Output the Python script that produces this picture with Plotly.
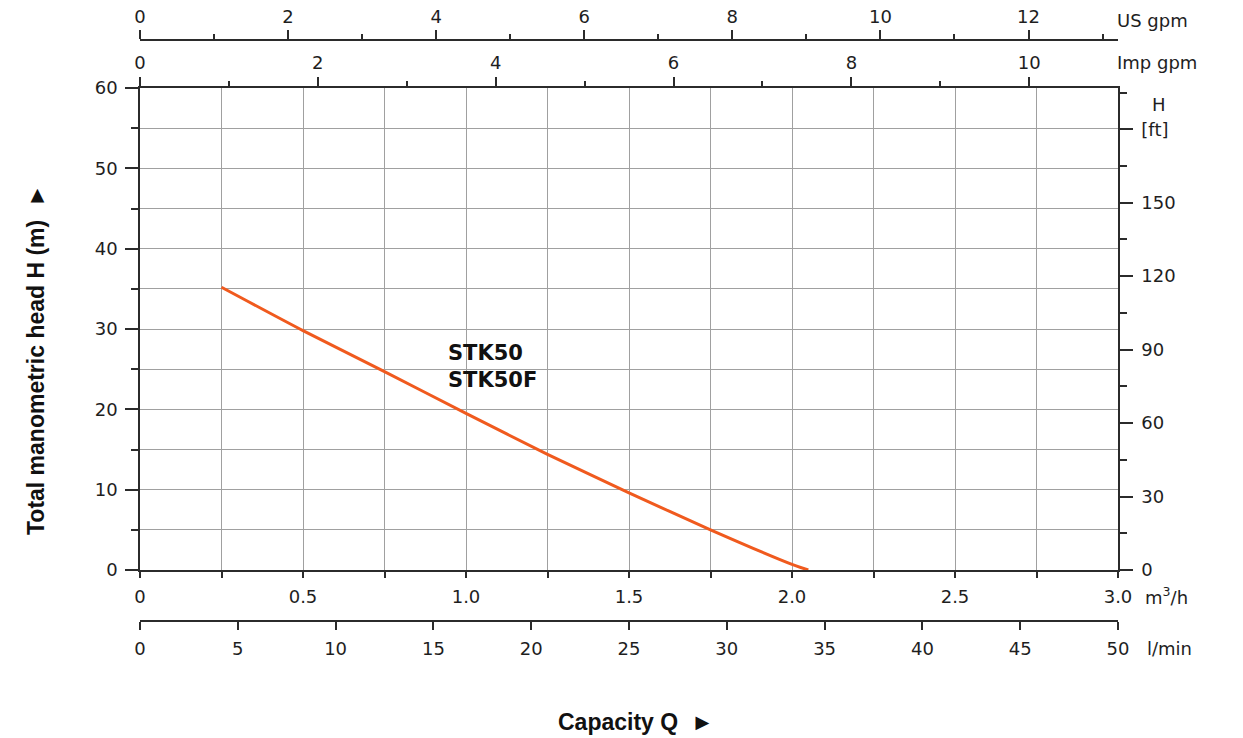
import plotly.graph_objects as go

# ---- data ----
flow_m3h = [0.25, 0.5, 0.75, 1.0, 1.25, 1.5, 1.75, 2.0, 2.05]
head_m = [35.2, 29.8, 24.7, 19.5, 14.4, 9.6, 5.0, 0.7, 0.0]
curve_label = "STK50<br>STK50F"

m3h_ticks = [0, 0.5, 1.0, 1.5, 2.0, 2.5, 3.0]
m3h_text = ["0", "0.5", "1.0", "1.5", "2.0", "2.5", "3.0"]
m3h_minor = [0.25, 0.75, 1.25, 1.75, 2.25, 2.75]
lmin_ticks = [0, 5, 10, 15, 20, 25, 30, 35, 40, 45, 50]
usgpm_ticks = [0, 2, 4, 6, 8, 10, 12]
usgpm_minor = [1, 3, 5, 7, 9, 11, 13]
impgpm_ticks = [0, 2, 4, 6, 8, 10]
impgpm_minor = [1, 3, 5, 7, 9, 11]
head_ticks = [0, 10, 20, 30, 40, 50, 60]
head_minor = [5, 15, 25, 35, 45, 55]
ft_ticks = [0, 30, 60, 90, 120, 150, 180]
ft_text = ["0", "30", "60", "90", "120", "150", "[ft]"]
ft_minor = [15, 45, 75, 105, 135, 165, 195]

Q_MAX = 3.0
H_MAX = 60
US_PER_M3H = 4.40287
IMP_PER_M3H = 3.66615
FT_PER_M = 3.28084

# ---- style ----
TXT = "#1e1e1e"
AX = "#2b2b2b"
GRID = "#a0a0a0"
ORANGE = "#F05A1E"
FONT = "DejaVu Sans"
TFS = 18

W, H = 1243, 738
ML, MR, MT, MB = 140, 125, 40, 117
PH = H - MT - MB
PW = W - ML - MR
y_top_px, y_bot_px = 88, 570
ydom = [(H - MB - y_bot_px) / PH, (H - MB - y_top_px) / PH]


def px_x(px):
    return (px - ML) / PW


def px_y(py):
    return (H - MB - py) / PH


fig = go.Figure()
fig.add_trace(go.Scatter(x=flow_m3h, y=head_m, mode="lines",
                         line=dict(color=ORANGE, width=3, shape="spline", smoothing=0.6),
                         showlegend=False, hoverinfo="skip"))
# helper empty traces so the secondary axes render
fig.add_trace(go.Scatter(x=[None], y=[None], xaxis="x2", yaxis="y", showlegend=False, hoverinfo="skip"))
fig.add_trace(go.Scatter(x=[None], y=[None], xaxis="x3", yaxis="y", showlegend=False, hoverinfo="skip"))
fig.add_trace(go.Scatter(x=[None], y=[None], xaxis="x4", yaxis="y", showlegend=False, hoverinfo="skip"))
fig.add_trace(go.Scatter(x=[None], y=[None], xaxis="x", yaxis="y2", showlegend=False, hoverinfo="skip"))

tickfont = dict(family=FONT, size=TFS, color=TXT)

fig.update_layout(
    width=W, height=H,
    margin=dict(l=ML, r=MR, t=MT, b=MB, autoexpand=False),
    paper_bgcolor="white", plot_bgcolor="white",
    showlegend=False,
    xaxis=dict(range=[0, Q_MAX], domain=[0, 1], anchor="y",
               tickmode="array", tickvals=m3h_ticks, ticktext=m3h_text,
               ticks="outside", ticklen=6, tickwidth=1.5, tickcolor=AX,
               showline=True, linecolor=AX, linewidth=1.5,
               showgrid=True, gridcolor=GRID, gridwidth=1, zeroline=False,
               tickfont=tickfont, ticklabelstandoff=4, automargin=False,
               minor=dict(tickvals=m3h_minor, ticks="outside", ticklen=6, tickwidth=1.5,
                          tickcolor=AX, showgrid=True, gridcolor=GRID, gridwidth=1)),
    xaxis2=dict(range=[0, Q_MAX * IMP_PER_M3H], overlaying="x", anchor="y", side="top",
                tickmode="array", tickvals=impgpm_ticks,
                ticks="outside", ticklen=9, tickwidth=1.5, tickcolor=AX,
                showline=True, linecolor=AX, linewidth=1.5,
                showgrid=False, zeroline=False, tickfont=tickfont, ticklabelstandoff=1,
                automargin=False,
                minor=dict(tickvals=impgpm_minor, ticks="outside", ticklen=5, tickwidth=1.5, tickcolor=AX)),
    xaxis3=dict(range=[0, Q_MAX * US_PER_M3H], overlaying="x", anchor="free", position=1, side="top",
                tickmode="array", tickvals=usgpm_ticks,
                ticks="outside", ticklen=9, tickwidth=1.5, tickcolor=AX,
                showline=True, linecolor=AX, linewidth=1.5,
                showgrid=False, zeroline=False, tickfont=tickfont, ticklabelstandoff=0,
                automargin=False,
                minor=dict(tickvals=usgpm_minor, ticks="outside", ticklen=5, tickwidth=1.5, tickcolor=AX)),
    xaxis4=dict(range=[0, Q_MAX * 1000 / 60], overlaying="x", anchor="free", position=0, side="bottom",
                tickmode="array", tickvals=lmin_ticks,
                ticks="outside", ticklen=8, tickwidth=1.5, tickcolor=AX,
                showline=True, linecolor=AX, linewidth=1.5,
                showgrid=False, zeroline=False, tickfont=tickfont, ticklabelstandoff=4,
                automargin=False),
    yaxis=dict(range=[0, H_MAX], domain=ydom, anchor="x",
               tickmode="array", tickvals=head_ticks,
               ticks="outside", ticklen=13, tickwidth=1.5, tickcolor=AX,
               showline=True, linecolor=AX, linewidth=1.5,
               showgrid=True, gridcolor=GRID, gridwidth=1, zeroline=False,
               tickfont=tickfont, ticklabelstandoff=4, automargin=False,
               minor=dict(tickvals=head_minor, ticks="outside", ticklen=7, tickwidth=1.5,
                          tickcolor=AX, showgrid=True, gridcolor=GRID, gridwidth=1)),
    yaxis2=dict(range=[0, H_MAX * FT_PER_M], overlaying="y", anchor="x", side="right",
                tickmode="array", tickvals=ft_ticks, ticktext=ft_text,
                ticks="outside", ticklen=13, tickwidth=1.5, tickcolor=AX,
                showline=True, linecolor=AX, linewidth=1.5,
                showgrid=False, zeroline=False, tickfont=tickfont, ticklabelstandoff=5,
                automargin=False,
                minor=dict(tickvals=ft_minor, ticks="outside", ticklen=7, tickwidth=1.5, tickcolor=AX)),
)

unit_font = dict(family=FONT, size=TFS, color=TXT)
annots = [
    dict(text="US gpm", x=px_x(1115), y=px_y(20), xanchor="left", yanchor="middle"),
    dict(text="Imp gpm", x=px_x(1115), y=px_y(63), xanchor="left", yanchor="middle"),
    dict(text="H", x=px_x(1159), y=px_y(104), xanchor="center", yanchor="middle"),
    dict(text="m<sup>3</sup>/h", x=px_x(1143), y=px_y(596), xanchor="left", yanchor="middle"),
    dict(text="l/min", x=px_x(1145), y=px_y(648), xanchor="left", yanchor="middle"),
]
for a in annots:
    fig.add_annotation(xref="paper", yref="paper", showarrow=False, font=unit_font, **a)

fig.add_annotation(text="<b>Total manometric head H (m)  ►</b>", xref="paper", yref="paper",
                   x=px_x(36), y=px_y(360), textangle=-90, showarrow=False,
                   xanchor="center", yanchor="middle",
                   font=dict(family="Liberation Sans", size=23, color="#111"))
fig.add_annotation(text="<b>Capacity Q  ►</b>", xref="paper", yref="paper",
                   x=px_x(636), y=px_y(722), showarrow=False,
                   xanchor="center", yanchor="middle",
                   font=dict(family="Liberation Sans", size=23, color="#111"))
fig.add_annotation(text="<b>" + curve_label + "</b>", xref="x", yref="y",
                   x=0.94, y=25.3, showarrow=False, xanchor="left", yanchor="middle", align="left",
                   font=dict(family=FONT, size=21, color="#111"))

fig.write_html("out.html")
